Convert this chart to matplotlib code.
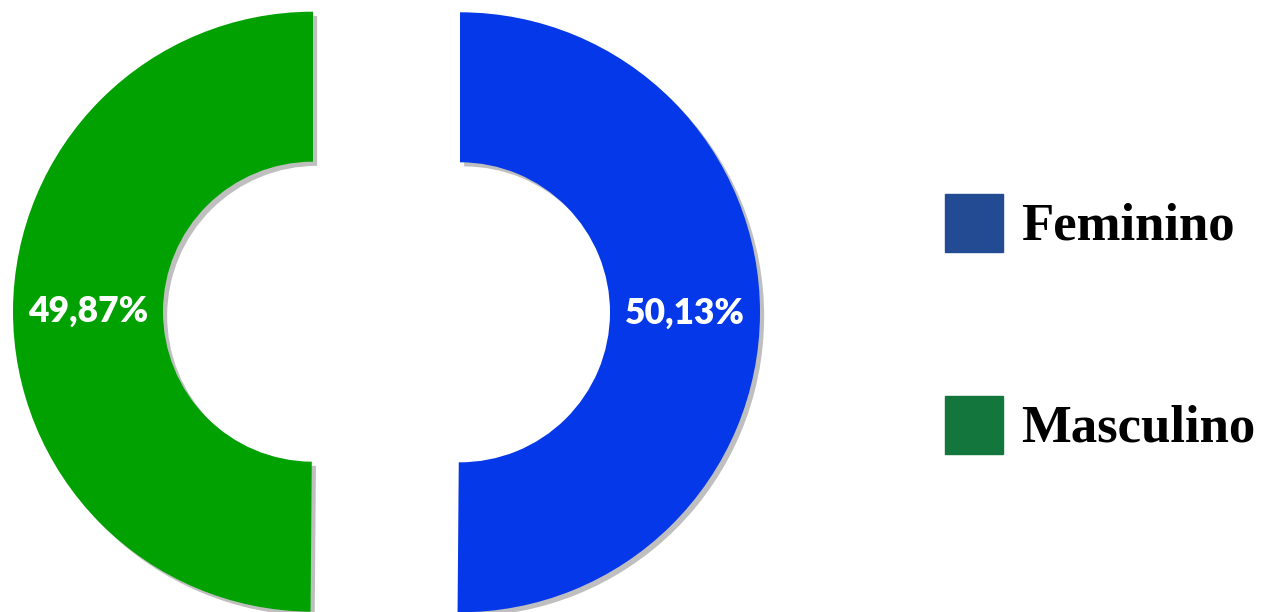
import numpy as np
import matplotlib.pyplot as plt
import matplotlib.patches as mpatches
import matplotlib.patheffects as pe

# share of respondents by sex
labels = ["Feminino", "Masculino"]
values = [50.13, 49.87]
slice_colors = ["#0538E8", "#02A102"]
legend_colors = ["#234B93", "#13773D"]

W, H = 1261, 612

fig = plt.figure(figsize=(W / 100, H / 100), dpi=100)
ax = fig.add_axes([0, 0, 1, 1])

radius = 300
ring = 150
gap = 73.5  # how far each half is pulled out from the centre

wedges, _ = ax.pie(
    values,
    colors=slice_colors,
    startangle=90,
    counterclock=False,
    radius=radius,
    center=(386.5, 300),
    explode=[gap, gap],
    wedgeprops=dict(width=ring, edgecolor="none"),
    frame=True,
)
ax.set_xlim(0, W)
ax.set_ylim(0, H)
ax.set_aspect("equal")
ax.axis("off")

for w, v in zip(wedges, values):
    w.set_path_effects([
        pe.SimplePatchShadow(offset=(3, -3), shadow_rgbFace="black", alpha=0.25),
        pe.Normal(),
    ])
    # percentage label in the middle of the ring
    cx, cy = w.center
    mid = np.deg2rad((w.theta1 + w.theta2) / 2)
    r = radius - ring / 2
    ax.text(
        cx + r * np.cos(mid), cy + r * np.sin(mid),
        f"{v:.2f}%".replace(".", ","),
        ha="center", va="center", color="white",
        fontsize=25.5, fontweight="heavy", family=["Lato", "DejaVu Sans"],
    )

# manual legend on the right
legend_y = [H - 223, H - 425]
for lab, col, y in zip(labels, legend_colors, legend_y):
    ax.add_patch(mpatches.Rectangle((945, y - 29), 58, 58, color=col))
    ax.text(1021, y - 16, lab, ha="left", va="baseline",
            fontsize=38, fontweight="bold", family="Liberation Serif")

fig.savefig("out.png", dpi=100)
